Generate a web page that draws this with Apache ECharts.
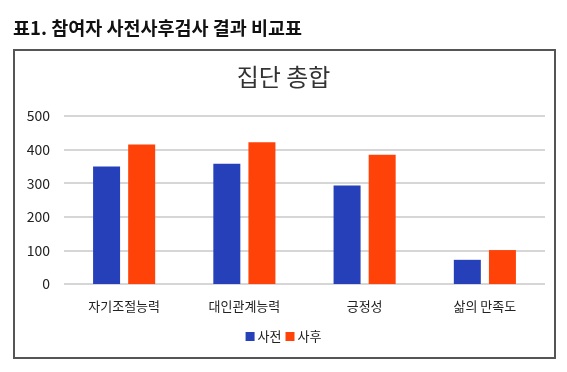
<!DOCTYPE html>
<html><head><meta charset="utf-8">
<script src="https://cdn.jsdelivr.net/npm/echarts@6/dist/echarts.min.js"></script>
<style>html,body{margin:0;padding:0;background:#fff}#c{width:567px;height:372px}</style>
</head><body><div id="c"></div>
<script>
const categories = ['자기조절능력', '대인관계능력', '긍정성', '삶의 만족도'];
const preValues = [350, 358, 293, 72];
const postValues = [415, 422, 385, 101];
const seriesNames = ['사전', '사후'];
const yTicks = [0, 100, 200, 300, 400, 500];

const chart = echarts.init(document.getElementById('c'), null, {renderer: 'canvas'});
const font = '"Noto Sans CJK KR", "Noto Sans", sans-serif';
chart.setOption({
  animation: false,
  backgroundColor: '#fff',
  textStyle: {fontFamily: font},
  graphic: [
    {type: 'text', left: 13, top: 19, style: {text: '표1. 참여자 사전사후검사 결과 비교표', font: 'bold 18.5px "Noto Sans CJK KR", sans-serif', fill: '#111'}},
    {type: 'rect', shape: {x: 14, y: 50, width: 541, height: 308}, style: {fill: 'none', stroke: '#555', lineWidth: 2}, z: 10}
  ],
  title: {
    text: '집단 총합', left: 'center', top: 60,
    textStyle: {fontFamily: font, fontSize: 24, fontWeight: 'normal', color: '#333'}
  },
  legend: {
    data: seriesNames, bottom: 24, left: 'center',
    itemWidth: 9, itemHeight: 9, itemGap: 4, icon: 'rect',
    textStyle: {fontFamily: font, fontSize: 13, color: '#222', padding: [0, 0, 0, -2]}
  },
  grid: {left: 64, right: 22, top: 116, bottom: 88, containLabel: false},
  xAxis: {
    type: 'category', data: categories,
    axisLine: {show: false}, axisTick: {show: false},
    axisLabel: {fontFamily: font, fontSize: 13, color: '#222', margin: 16}
  },
  yAxis: {
    type: 'value', min: yTicks[0], max: yTicks[yTicks.length - 1], interval: 100,
    axisLine: {show: false}, axisTick: {show: false},
    axisLabel: {fontFamily: font, fontSize: 14, color: '#222', margin: 14},
    splitLine: {lineStyle: {color: '#c8c8c8', width: 1.5}}
  },
  series: [
    {name: seriesNames[0], type: 'bar', data: preValues, barWidth: 27, barGap: '30%', itemStyle: {color: '#2540b8'}},
    {name: seriesNames[1], type: 'bar', data: postValues, barWidth: 27, itemStyle: {color: '#ff4308'}}
  ]
});
</script></body></html>
